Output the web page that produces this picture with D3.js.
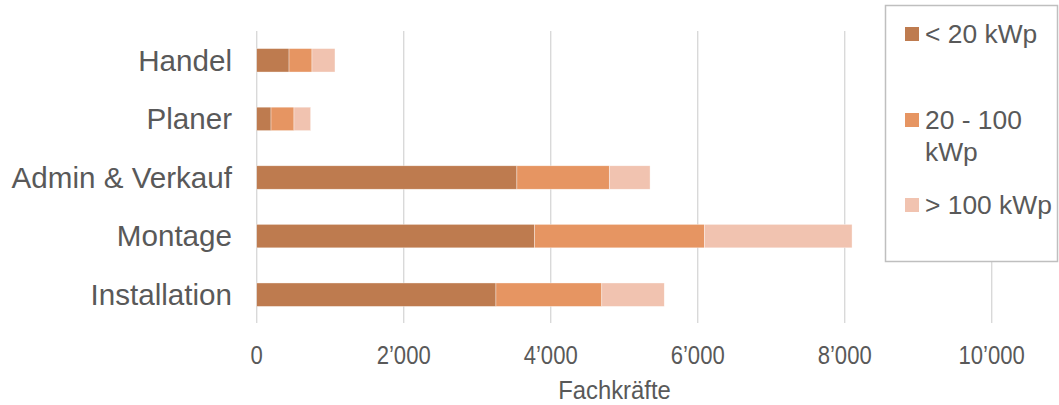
<!DOCTYPE html>
<html>
<head>
<meta charset="utf-8">
<script src="https://cdn.jsdelivr.net/npm/d3@7"></script>
<style>
  html, body { margin: 0; padding: 0; background: #fff; }
  svg { display: block; font-family: "Liberation Sans", Arial, sans-serif; }
</style>
</head>
<body>
<svg id="chart" width="1059" height="405"></svg>
<script>
// Berufsgruppen (top to bottom)
const categories = ["Handel", "Planer", "Admin & Verkauf", "Montage", "Installation"];
// Anlagengrösse
const seriesNames = ["< 20 kWp", "20 - 100 kWp", "> 100 kWp"];
const seriesColors = ["#BE7B4F", "#E69562", "#F1C3B0"];
// Fachkräfte je Segment
const small = [440, 195, 3540, 3780, 3255];
const medium = [312, 312, 1257, 2310, 1440];
const large = [313, 227, 555, 2010, 850];
const xTicks = [0, 2000, 4000, 6000, 8000, 10000];
const xTitle = "Fachkräfte";

const svg = d3.select("#chart");
const textColor = "#595959";

const x = d3.scaleLinear().domain([0, 10000]).range([256.7, 991.7]);
const y = d3.scaleBand().domain(categories).range([31, 324])
  .paddingInner(0.6).paddingOuter(0.3);

// vertical gridlines
svg.append("g").selectAll("line").data(xTicks).join("line")
  .attr("x1", d => x(d)).attr("x2", d => x(d))
  .attr("y1", 31).attr("y2", 323)
  .attr("stroke", "#d9d9d9").attr("stroke-width", 1.4);

// stacked bars
const rows = categories.map((c, i) => ({ cat: c, s0: small[i], s1: medium[i], s2: large[i] }));
const stack = d3.stack().keys(["s0", "s1", "s2"])(rows);

svg.append("g").selectAll("g").data(stack).join("g")
  .attr("fill", (d, i) => seriesColors[i])
  .selectAll("rect").data(d => d).join("rect")
  .attr("x", d => x(d[0]))
  .attr("width", d => x(d[1]) - x(d[0]))
  .attr("y", d => y(d.data.cat))
  .attr("height", y.bandwidth())
  .attr("stroke", "#ffffff").attr("stroke-width", 0.6).attr("stroke-opacity", 0.6);

// category labels
svg.append("g").selectAll("text").data(categories).join("text")
  .attr("x", 232)
  .attr("y", d => y(d) + y.bandwidth() / 2)
  .attr("dy", "0.35em")
  .attr("text-anchor", "end")
  .attr("font-size", 29.6)
  .attr("fill", textColor)
  .text(d => d);

// x tick labels
const fmt = d => d3.format(",")(d).replace(/,/g, "\u2019");
svg.append("g").selectAll("text").data(xTicks).join("text")
  .attr("transform", d => `translate(${x(d)},${364}) scale(0.85,1)`)
  .attr("text-anchor", "middle")
  .attr("font-size", 26)
  .attr("fill", textColor)
  .text(fmt);

// axis title
svg.append("text")
  .attr("transform", `translate(614.5,${399}) scale(0.9,1)`)
  .attr("text-anchor", "middle")
  .attr("font-size", 26.5)
  .attr("fill", textColor)
  .text(xTitle);

// legend
const lg = svg.append("g");
lg.append("rect")
  .attr("x", 885.5).attr("y", 5.5).attr("width", 172).attr("height", 256)
  .attr("fill", "#fff").attr("stroke", "#bfbfbf").attr("stroke-width", 1.5);

const legendRows = [
  { lines: ["< 20 kWp"], sq: 27 },
  { lines: ["20 - 100", "kWp"], sq: 113 },
  { lines: ["> 100 kWp"], sq: 198 }
];
legendRows.forEach((r, i) => {
  lg.append("rect")
    .attr("x", 905).attr("y", r.sq).attr("width", 14).attr("height", 14)
    .attr("fill", seriesColors[i]);
  const t = lg.append("text")
    .attr("x", 925).attr("y", r.sq + 16)
    .attr("font-size", 26.4)
    .attr("fill", textColor);
  r.lines.forEach((ln, j) => {
    t.append("tspan").attr("x", 925).attr("dy", j === 0 ? 0 : 32).text(ln);
  });
});
</script>
</body>
</html>
